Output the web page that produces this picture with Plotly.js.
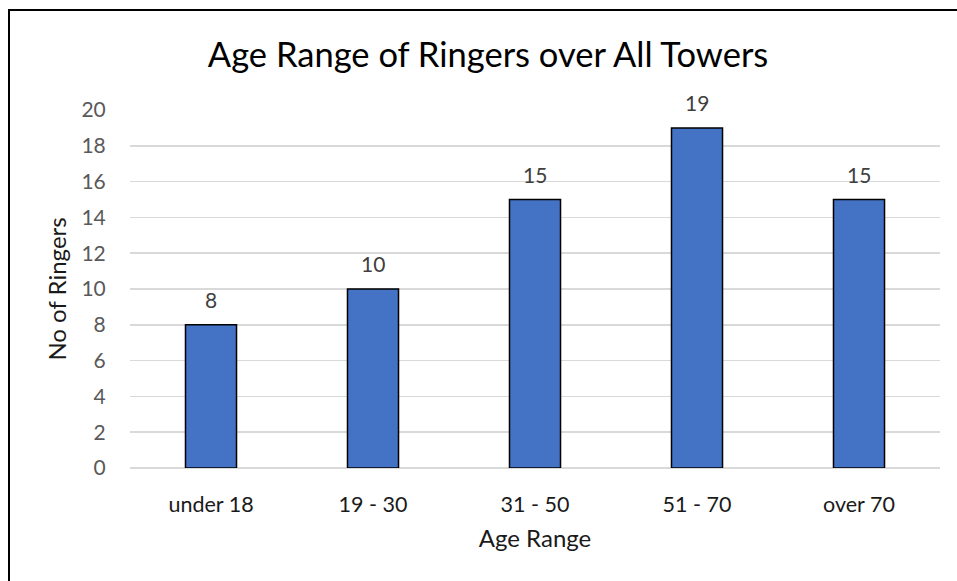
<!DOCTYPE html>
<html>
<head>
<meta charset="utf-8">
<script src="https://cdn.plot.ly/plotly-3.0.1.min.js"></script>
<style>
  html, body { margin: 0; padding: 0; background: #fff; }
  #wrap { position: relative; width: 957px; height: 581px; overflow: hidden; }
  #frame { position: absolute; left: 8px; top: 9px; width: 1000px; height: 1000px; border: 2px solid #000; box-sizing: border-box; pointer-events: none; }
  #chart { position: absolute; left: 0; top: 0; width: 957px; height: 581px; }
</style>
</head>
<body>
<div id="wrap">
  <div id="chart"></div>
  <div id="frame"></div>
</div>
<script>
const categories = ["under 18", "19 - 30", "31 - 50", "51 - 70", "over 70"];
const ringers = [8, 10, 15, 19, 15];
const yTicks = [0, 2, 4, 6, 8, 10, 12, 14, 16, 18, 20];

const FONT = "Lato, 'Open Sans', sans-serif";

const trace = {
  type: "bar",
  x: categories,
  y: ringers,
  width: 0.315,
  marker: { color: "#4472C4", line: { color: "#000000", width: 1.5 } },
  hoverinfo: "x+y"
};

const annotations = categories.map((c, i) => ({
  x: c, y: ringers[i], xref: "x", yref: "y",
  text: String(ringers[i]), showarrow: false,
  yanchor: "bottom", yshift: 11,
  font: { family: FONT, size: 21, color: "#404040" }
}));

const layout = {
  width: 957, height: 581,
  margin: { l: 130, r: 17, t: 110, b: 113 },
  paper_bgcolor: "#ffffff", plot_bgcolor: "#ffffff",
  showlegend: false,
  bargap: 0,
  title: {
    text: "Age Range of Ringers over All Towers",
    font: { family: FONT, size: 34.5, color: "#000000" },
    x: 0.51, xanchor: "center", y: 0.905, yanchor: "middle"
  },
  xaxis: {
    type: "category",
    range: [-0.5, 4.5],
    showgrid: false, zeroline: false, showline: false,
    ticks: "outside", ticklen: 17, tickcolor: "rgba(0,0,0,0)",
    tickfont: { family: FONT, size: 21.5, color: "#1a1a1a" },
    title: { text: "Age Range", font: { family: FONT, size: 24, color: "#1a1a1a" }, standoff: 14 }
  },
  yaxis: {
    range: [0, 20],
    tickvals: yTicks,
    showgrid: true, gridcolor: "#d9d9d9", gridwidth: 1.5,
    zeroline: true, zerolinecolor: "#d9d9d9", zerolinewidth: 1.5,
    showline: false,
    ticks: "outside", ticklen: 19, tickcolor: "rgba(0,0,0,0)",
    tickfont: { family: FONT, size: 21, color: "#595959" },
    title: { text: "No of Ringers", font: { family: FONT, size: 24, color: "#1a1a1a" }, standoff: 8 }
  },
  annotations: annotations
};

Plotly.newPlot("chart", [trace], layout, { displayModeBar: false, staticPlot: true });
</script>
</body>
</html>
